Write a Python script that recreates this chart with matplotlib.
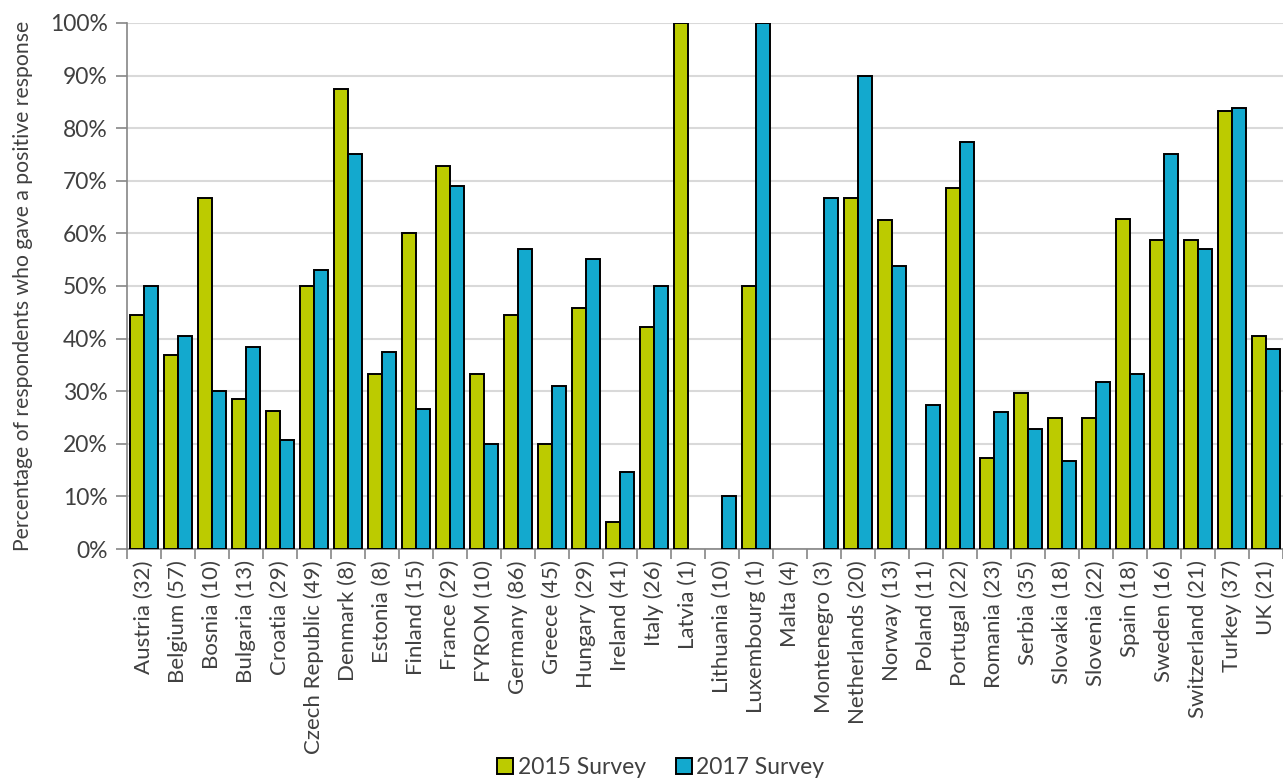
import numpy as np
import matplotlib
matplotlib.use('Agg')
import matplotlib.pyplot as plt
from matplotlib.ticker import FuncFormatter, FixedLocator

plt.rcParams['font.family'] = ['Lato', 'DejaVu Sans']

# Countries (with number of respondents)
countries = ['Austria (32)', 'Belgium (57)', 'Bosnia (10)', 'Bulgaria (13)', 'Croatia (29)',
             'Czech Republic (49)', 'Denmark (8)', 'Estonia (8)', 'Finland (15)', 'France (29)',
             'FYROM (10)', 'Germany (86)', 'Greece (45)', 'Hungary (29)', 'Ireland (41)',
             'Italy (26)', 'Latvia (1)', 'Lithuania (10)', 'Luxembourg (1)', 'Malta (4)',
             'Montenegro (3)', 'Netherlands (20)', 'Norway (13)', 'Poland (11)', 'Portugal (22)',
             'Romania (23)', 'Serbia (35)', 'Slovakia (18)', 'Slovenia (22)', 'Spain (18)',
             'Sweden (16)', 'Switzerland (21)', 'Turkey (37)', 'UK (21)']

# Percentage of positive responses (nan = no data)
survey_2015 = [44.4, 36.8, 66.7, 28.5, 26.2, 50.0, 87.5, 33.3, 60.0, 72.9,
               33.3, 44.4, 20.0, 45.8, 5.1, 42.2, 100.0, np.nan, 50.0, np.nan,
               np.nan, 66.7, 62.5, np.nan, 68.6, 17.3, 29.6, 25.0, 25.0, 62.8,
               58.8, 58.8, 83.3, 40.5]
survey_2017 = [50.0, 40.4, 30.0, 38.4, 20.7, 53.1, 75.0, 37.5, 26.7, 69.0,
               20.0, 57.0, 31.0, 55.2, 14.6, 50.0, np.nan, 10.0, 100.0, np.nan,
               66.7, 90.0, 53.8, 27.3, 77.3, 26.1, 22.9, 16.7, 31.8, 33.3,
               75.0, 57.1, 83.8, 38.1]

series_labels = ['2015 Survey', '2017 Survey']
colors = ['#bccb00', '#13a9ce']
text_col = '#404040'
axis_col = '#868686'

fig = plt.figure(figsize=(12.83, 7.81), dpi=100)
ax = fig.add_axes([127 / 1283, 232 / 781, 1156 / 1283, 526 / 781])

x = np.arange(len(countries))
w = 0.41
ax.bar(x - w / 2, survey_2015, width=w, color=colors[0], edgecolor='black',
       linewidth=1.4, label=series_labels[0], zorder=3)
ax.bar(x + w / 2, survey_2017, width=w, color=colors[1], edgecolor='black',
       linewidth=1.4, label=series_labels[1], zorder=3)

ax.set_xlim(-0.5, len(countries) - 0.5)
ax.set_ylim(0, 100)
ax.set_yticks(np.arange(0, 101, 10))
ax.yaxis.set_major_formatter(FuncFormatter(lambda v, p: '%d%%' % v))
ax.yaxis.grid(True, color='#d9d9d9', linewidth=1.5, zorder=0)
ax.set_axisbelow(True)

# category labels at centres, tick marks at boundaries
ax.set_xticks(x)
ax.set_xticklabels(countries, rotation=90, fontsize=16, color=text_col)
ax.tick_params(axis='x', length=0, pad=8)
ax.xaxis.set_minor_locator(FixedLocator(np.arange(-0.5, len(countries), 1)))
ax.tick_params(axis='x', which='minor', length=7, color=axis_col, width=1.2)
ax.tick_params(axis='y', labelsize=16.5, labelcolor=text_col, length=8,
               color=axis_col, width=1.2, pad=6)

for s in ['top', 'right']:
    ax.spines[s].set_visible(False)
for s in ['left', 'bottom']:
    ax.spines[s].set_color(axis_col)
    ax.spines[s].set_linewidth(1.2)

ax.set_ylabel('Percentage of respondents who gave a positive response', fontsize=15.2,
              color=text_col)
ax.yaxis.set_label_coords(-0.081, 0.5)

fig.legend(loc='lower center', bbox_to_anchor=(0.515, -0.022), ncol=2, frameon=False,
           fontsize=16.5, handlelength=0.7, handleheight=0.7, handletextpad=0.2,
           columnspacing=1.3, labelcolor=text_col)

fig.savefig('out.png', dpi=100)
